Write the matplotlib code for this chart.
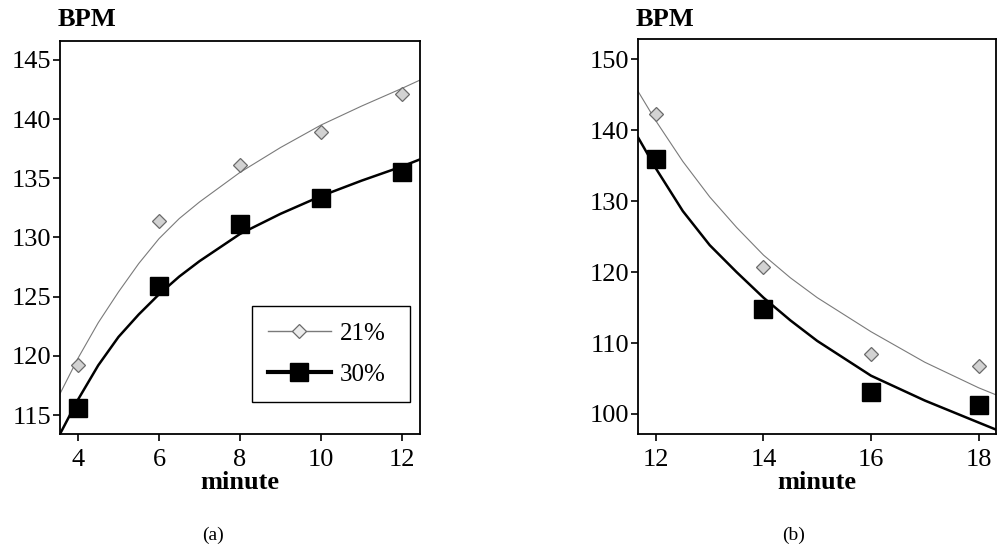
import matplotlib
matplotlib.use("Agg")
import matplotlib.pyplot as plt
from matplotlib.lines import Line2D

plt.rcParams['font.family'] = ['Liberation Serif', 'DejaVu Serif']

# panel (a): minutes 4-12
min_a = [4, 6, 8, 10, 12]
bpm21_a = [119.2, 131.4, 136.1, 138.9, 142.1]
bpm30_a = [115.6, 125.9, 131.1, 133.3, 135.5]

# trend curves (a)
fit21_a_x = [3.556, 4, 4.5, 5, 5.5, 6, 6.5, 7, 8, 9, 10, 11, 12, 12.444]
fit21_a_y = [116.8, 119.8, 122.8, 125.4, 127.8, 129.9, 131.6, 133.0, 135.5, 137.6, 139.5, 141.1, 142.6, 143.3]
fit30_a_x = [3.556, 4, 4.5, 5, 5.5, 6, 6.5, 7, 8, 9, 10, 11, 12, 12.444]
fit30_a_y = [113.4, 116.3, 119.2, 121.6, 123.5, 125.2, 126.7, 128.0, 130.3, 132.0, 133.5, 134.8, 136.0, 136.6]

# panel (b): minutes 12-18
min_b = [12, 14, 16, 18]
bpm21_b = [142.3, 120.7, 108.5, 106.7]
bpm30_b = [136.0, 114.8, 103.1, 101.2]

fit21_b_x = [11.666, 12, 12.5, 13, 13.5, 14, 14.5, 15, 16, 17, 18, 18.325]
fit21_b_y = [145.5, 141.3, 135.6, 130.6, 126.3, 122.4, 119.2, 116.4, 111.6, 107.3, 103.7, 102.7]
fit30_b_x = [11.666, 12, 12.5, 13, 13.5, 14, 14.5, 15, 16, 17, 18, 18.325]
fit30_b_y = [139.0, 134.6, 128.6, 123.8, 120.0, 116.4, 113.2, 110.3, 105.4, 101.9, 98.8, 97.8]

labels = ["21%", "30%"]

W, H = 1003, 545
fig = plt.figure(figsize=(W / 100, H / 100), dpi=100)
ax1 = fig.add_axes([60 / W, 111 / H, 360 / W, 393 / H])
ax2 = fig.add_axes([638 / W, 111 / H, 358 / W, 395 / H])

dia = dict(marker='D', ms=6.8, mfc='#d2d2d2', mec='#6a6a6a', mew=0.9, ls='none')
sq = dict(marker='s', ms=13, mfc='black', mec='black', ls='none')


def panel(ax, xs, y21, y30, f21x, f21y, f30x, f30y, xlim, ylim, xt, yt, tag, tag_x):
    ax.plot(f21x, f21y, color='#7a7a7a', lw=0.8, zorder=2)
    ax.plot(f30x, f30y, color='black', lw=1.8, zorder=2)
    ax.plot(xs, y21, zorder=3, **dia)
    ax.plot(xs, y30, zorder=3, **sq)
    ax.set_xlim(*xlim)
    ax.set_ylim(*ylim)
    ax.set_xticks(xt)
    ax.set_yticks(yt)
    for s in ax.spines.values():
        s.set_linewidth(1.3)
        s.set_color('black')
    ax.tick_params(axis='both', direction='out', length=5, width=1.2, labelsize=19)
    ax.tick_params(axis='x', pad=6)
    ax.tick_params(axis='y', pad=1)
    ax.set_xlabel("minute", fontsize=19, fontweight='bold', labelpad=0)
    pos = ax.get_position()
    fig.text(pos.x0 - 2 / W, 1 - 20 / H, "BPM", fontsize=19, fontweight='bold',
             ha='left', va='center')
    fig.text(tag_x / W, 1 - 535 / H, tag, fontsize=14, ha='center', va='center')


panel(ax1, min_a, bpm21_a, bpm30_a, fit21_a_x, fit21_a_y, fit30_a_x, fit30_a_y,
      (3.556, 12.444), (113.4, 146.6), [4, 6, 8, 10, 12], [115, 120, 125, 130, 135, 140, 145],
      "(a)", 213)
panel(ax2, min_b, bpm21_b, bpm30_b, fit21_b_x, fit21_b_y, fit30_b_x, fit30_b_y,
      (11.666, 18.325), (97.18, 152.86), [12, 14, 16, 18], [100, 110, 120, 130, 140, 150],
      "(b)", 794)

handles = [
    Line2D([], [], color='#7a7a7a', lw=1.0, marker='D', ms=6.8, mfc='#ececec', mec='#6a6a6a', mew=0.9),
    Line2D([], [], color='black', lw=3.0, marker='s', ms=13, mfc='black', mec='black'),
]
leg = ax1.legend(handles, labels, loc='lower left', bbox_to_anchor=(0.533, 0.081, 0.44, 0.25),
                 mode='expand', fontsize=18, handlelength=2.5, handletextpad=0.35,
                 borderpad=0.65, labelspacing=0.75, borderaxespad=0, numpoints=1,
                 fancybox=False, framealpha=1)
leg.get_frame().set_edgecolor('black')
leg.get_frame().set_linewidth(1.0)

fig.savefig("out.png", dpi=100)
